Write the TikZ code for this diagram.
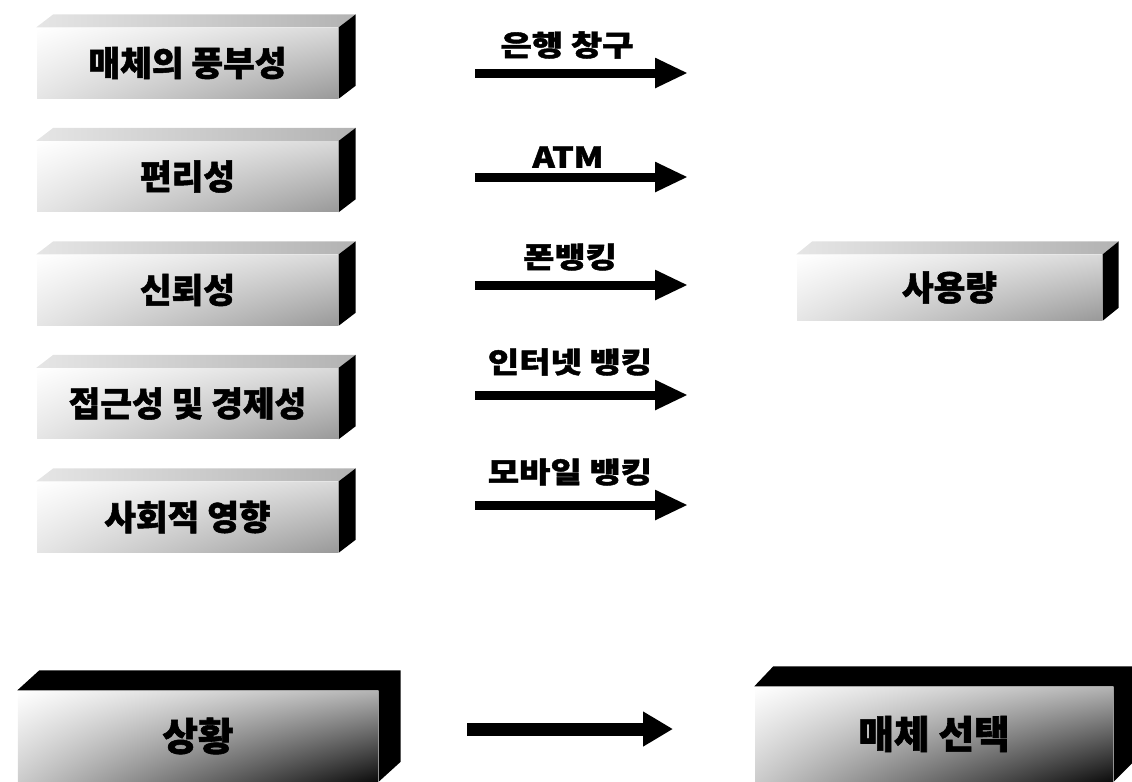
\documentclass[tikz,border=0pt]{standalone}
\usepackage{fontspec}
\newfontfamily\krfont{Noto Sans CJK KR}[BoldFeatures={FakeBold=1.5}]
\newfontfamily\krwide{Noto Sans CJK KR}[FakeStretch=1.18, BoldFeatures={FakeBold=1.5}]
\usetikzlibrary{arrows.meta,shadings}

\begin{document}
\begin{tikzpicture}[x=1cm, y=-1cm, node distance=1.135cm, >={Triangle[length=3.3mm,width=2.8mm]}]
			\tikzstyle{factor} = [shade, upper left=white, upper right=gray!30, lower left=gray!20, lower right=gray!80, minimum width=3.01cm, minimum height=0.70cm, inner sep=0pt, font={\krfont\bfseries\fontsize{9.8pt}{11pt}\selectfont}]
			\tikzstyle{outcome} = [factor, minimum width=3.05cm, minimum height=0.65cm]
			\tikzstyle{stage} = [shade, upper left=white, upper right=gray!60, lower left=gray!40, lower right=black!95, minimum width=3.60cm, minimum height=0.90cm, inner sep=0pt, font={\krfont\bfseries\fontsize{11pt}{12pt}\selectfont}]
			\tikzstyle{topface} = [left color=gray!20, right color=gray!60]
			\tikzstyle{darkface} = [fill=black]
			\tikzstyle{channel} = [font={\krwide\bfseries\fontsize{8.2pt}{9pt}\selectfont}, inner sep=0pt]
			\tikzstyle{flow} = [->, line width=0.09cm]
			\useasboundingbox (0,0) rectangle (11.32,7.81);
			\clip (0,0) rectangle (11.32,7.81);
			\begin{scope}
			% left column
			\path
			node[factor] (rich) at (1.875,0.63) {매체의 풍부성}
			node[factor, below of=rich] (conv) {편리성}
			node[factor, below of=conv] (trust) {신뢰성}
			node[factor, below of=trust] (acc) {접근성 및 경제성}
			node[factor, below of=acc] (soc) {사회적 영향}
			node[outcome] (usage) at (9.495,2.875) {사용량}
			node[stage] (sit) at (1.98,7.36) {상황}
			node[stage, minimum width=3.58cm, minimum height=0.94cm] (sel) at (9.34,7.34) {매체 선택}
			;
			% box tops and sides
			\shade[topface] (rich.north west) -- ++(0.17,-0.13) -- ([shift={(0.17,-0.13)}]rich.north east) -- (rich.north east) -- cycle;
			\path[darkface] (rich.north east) -- ++(0.17,-0.13) -- ([shift={(0.17,-0.13)}]rich.south east) -- (rich.south east) -- cycle;
			\shade[topface] (conv.north west) -- ++(0.17,-0.13) -- ([shift={(0.17,-0.13)}]conv.north east) -- (conv.north east) -- cycle;
			\path[darkface] (conv.north east) -- ++(0.17,-0.13) -- ([shift={(0.17,-0.13)}]conv.south east) -- (conv.south east) -- cycle;
			\shade[topface] (trust.north west) -- ++(0.17,-0.13) -- ([shift={(0.17,-0.13)}]trust.north east) -- (trust.north east) -- cycle;
			\path[darkface] (trust.north east) -- ++(0.17,-0.13) -- ([shift={(0.17,-0.13)}]trust.south east) -- (trust.south east) -- cycle;
			\shade[topface] (acc.north west) -- ++(0.17,-0.13) -- ([shift={(0.17,-0.13)}]acc.north east) -- (acc.north east) -- cycle;
			\path[darkface] (acc.north east) -- ++(0.17,-0.13) -- ([shift={(0.17,-0.13)}]acc.south east) -- (acc.south east) -- cycle;
			\shade[topface] (soc.north west) -- ++(0.17,-0.13) -- ([shift={(0.17,-0.13)}]soc.north east) -- (soc.north east) -- cycle;
			\path[darkface] (soc.north east) -- ++(0.17,-0.13) -- ([shift={(0.17,-0.13)}]soc.south east) -- (soc.south east) -- cycle;
			\shade[topface] (usage.north west) -- ++(0.16,-0.13) -- ([shift={(0.16,-0.13)}]usage.north east) -- (usage.north east) -- cycle;
			\path[darkface] (usage.north east) -- ++(0.16,-0.13) -- ([shift={(0.16,-0.13)}]usage.south east) -- (usage.south east) -- cycle;
			\path[darkface] (sit.north west) -- ++(0.22,-0.20) -- ([shift={(0.22,-0.20)}]sit.north east) -- ([shift={(0.22,-0.20)}]sit.south east) -- (sit.south east) -- (sit.north east) -- cycle;
			\path[darkface] (sel.north west) -- ++(0.19,-0.20) -- ([shift={(0.20,-0.20)}]sel.north east) -- ([shift={(0.20,-0.20)}]sel.south east) -- (sel.south east) -- (sel.north east) -- cycle;
			% channels
			\coordinate (a1) at (4.75,0.73); \coordinate (b1) at (6.88,0.73);
			\coordinate (a2) at (4.75,1.77); \coordinate (b2) at (6.88,1.77);
			\coordinate (a3) at (4.75,2.85); \coordinate (b3) at (6.88,2.85);
			\coordinate (a4) at (4.75,3.95); \coordinate (b4) at (6.88,3.95);
			\coordinate (a5) at (4.75,5.05); \coordinate (b5) at (6.88,5.05);
			\path
			node[channel] (bank) at (5.67,0.45) {은행 창구}
			node[channel] (atm) at (5.68,1.57) {ATM}
			node[channel] (phone) at (5.70,2.57) {폰뱅킹}
			node[channel] (web) at (5.70,3.62) {인터넷 뱅킹}
			node[channel] (mobile) at (5.70,4.72) {모바일 뱅킹}
			;
			\draw[flow] (a1) -- (b1);
			\draw[flow] (a2) -- (b2);
			\draw[flow] (a3) -- (b3);
			\draw[flow] (a4) -- (b4);
			\draw[flow] (a5) -- (b5);
			% bottom row
			\coordinate (a6) at (4.67,7.29); \coordinate (b6) at (6.73,7.29);
			\draw[->, line width=0.13cm, >={Triangle[length=3.0mm,width=3.3mm]}] (a6) -- (b6);
			\end{scope}
\end{tikzpicture}
\end{document}
